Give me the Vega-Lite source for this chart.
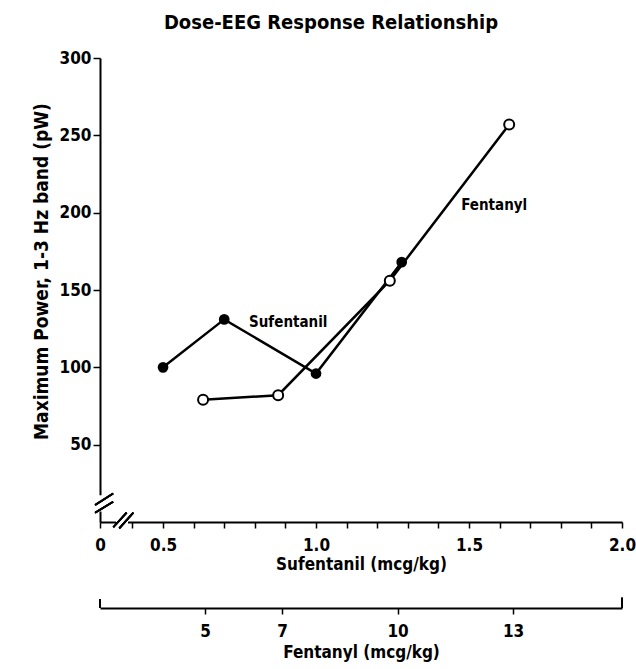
{
  "$schema": "https://vega.github.io/schema/vega-lite/v6.json",
  "width": 522,
  "height": 464,
  "autosize": "none",
  "padding": {"left": 100, "top": 58, "right": 14, "bottom": 147},
  "background": "white",
  "config": {
    "view": {"stroke": null},
    "font": "Liberation Sans Narrow, DejaVu Sans Condensed, sans-serif",
    "axis": {
      "grid": false,
      "domainColor": "black",
      "domainWidth": 2,
      "tickColor": "black",
      "tickWidth": 1.5,
      "labelColor": "black",
      "labelFontSize": 17,
      "labelFontWeight": "bold",
      "labelFont": "Liberation Sans Narrow, DejaVu Sans Condensed, sans-serif",
      "titleColor": "black",
      "titleFontSize": 17,
      "titleFontWeight": "bold",
      "titleFont": "Liberation Sans Narrow, DejaVu Sans Condensed, sans-serif"
    }
  },
  "title": {
    "text": "Dose-EEG Response Relationship",
    "fontSize": 20,
    "fontWeight": "bold",
    "font": "Liberation Sans Narrow, DejaVu Sans Condensed, sans-serif",
    "color": "black",
    "dx": -30,
    "offset": 16
  },
  "datasets": {
    "sufentanil": [
      {"dose": 0.5, "power": 100},
      {"dose": 0.7, "power": 131},
      {"dose": 1.0, "power": 96},
      {"dose": 1.28, "power": 168}
    ],
    "fentanyl": [
      {"dose": 4.95, "power": 79},
      {"dose": 6.9, "power": 82},
      {"dose": 9.8, "power": 156},
      {"dose": 12.9, "power": 257}
    ]
  },
  "encoding": {
    "y": {
      "field": "power",
      "type": "quantitative",
      "scale": {"domain": [0, 300], "nice": false},
      "axis": {
        "values": [50, 100, 150, 200, 250, 300],
        "tickSize": 7,
        "labelPadding": 2,
        "title": "Maximum Power, 1-3 Hz band (pW)",
        "titleFontSize": 19,
        "titleX": -59,
        "titleY": 213,
        "titleAngle": -90,
        "titleAlign": "center",
        "titleBaseline": "middle"
      }
    }
  },
  "layer": [
    {
      "data": {"name": "sufentanil"},
      "encoding": {
        "x": {
          "field": "dose",
          "type": "quantitative",
          "scale": {"domain": [0.294, 2.0], "nice": false, "zero": false},
          "axis": {
            "values": [0.294, 0.4, 0.5, 0.6, 0.7, 0.8, 0.9, 1.0, 1.1, 1.2, 1.3, 1.4, 1.5, 1.6, 1.7, 1.8, 1.9, 2.0],
            "labelExpr": "datum.value < 0.3 ? '0' : (abs(datum.value * 2 - round(datum.value * 2)) < 0.001 ? format(datum.value, '.1f') : '')",
            "tickSize": 6,
            "labelPadding": 9,
            "labelFlush": false,
            "labelOverlap": false,
            "title": "Sufentanil (mcg/kg)",
            "titlePadding": 3
          }
        }
      },
      "layer": [
        {"mark": {"type": "line", "color": "black", "strokeWidth": 2.5}},
        {"mark": {"type": "point", "shape": "circle", "filled": true, "color": "black", "size": 115, "opacity": 1}},
        {
          "transform": [{"filter": "datum.dose == 0.7"}],
          "mark": {"type": "text", "text": "Sufentanil", "dx": 64, "dy": 3, "fontSize": 15, "fontWeight": "bold", "color": "black", "font": "Liberation Sans Narrow, DejaVu Sans Condensed, sans-serif"}
        },
        {
          "mark": {"type": "rule", "color": "white", "strokeWidth": 4, "clip": false},
          "encoding": {"x": {"datum": 0.294}, "y": {"datum": 7}, "y2": {"datum": 17}}
        },
        {
          "mark": {"type": "rule", "color": "white", "strokeWidth": 4, "clip": false},
          "encoding": {"x": {"datum": 0.347}, "x2": {"datum": 0.385}, "y": {"datum": 0}}
        },
        {
          "mark": {"type": "rule", "color": "black", "strokeWidth": 1.8, "clip": false},
          "encoding": {"x": {"datum": 0.278}, "x2": {"datum": 0.337}, "y": {"datum": 11.0}, "y2": {"datum": 18.5}}
        },
        {
          "mark": {"type": "rule", "color": "black", "strokeWidth": 1.8, "clip": false},
          "encoding": {"x": {"datum": 0.278}, "x2": {"datum": 0.337}, "y": {"datum": 6.0}, "y2": {"datum": 13.1}}
        },
        {
          "mark": {"type": "rule", "color": "black", "strokeWidth": 1.8, "clip": false},
          "encoding": {"x": {"datum": 0.3375}, "x2": {"datum": 0.381}, "y": {"datum": -3.4}, "y2": {"datum": 6.0}}
        },
        {
          "mark": {"type": "rule", "color": "black", "strokeWidth": 1.8, "clip": false},
          "encoding": {"x": {"datum": 0.357}, "x2": {"datum": 0.403}, "y": {"datum": -4.1}, "y2": {"datum": 6.0}}
        }
      ]
    },
    {
      "data": {"name": "fentanyl"},
      "encoding": {
        "x": {
          "field": "dose",
          "type": "quantitative",
          "scale": {"domain": [2.273, 15.83], "nice": false, "zero": false},
          "axis": {
            "orient": "bottom",
            "offset": 86,
            "values": [5, 7, 10, 13],
            "tickSize": 6,
            "labelPadding": 9,
            "title": "Fentanyl (mcg/kg)",
            "titlePadding": 5
          }
        }
      },
      "layer": [
        {"mark": {"type": "line", "color": "black", "strokeWidth": 2.5}},
        {"mark": {"type": "point", "shape": "circle", "filled": true, "fill": "white", "stroke": "black", "strokeWidth": 2, "size": 100, "opacity": 1}},
        {
          "transform": [{"filter": "datum.dose == 12.9"}],
          "mark": {"type": "text", "text": "Fentanyl", "dx": -15, "dy": 80, "fontSize": 15, "fontWeight": "bold", "color": "black", "font": "Liberation Sans Narrow, DejaVu Sans Condensed, sans-serif"}
        },
        {
          "mark": {"type": "rule", "color": "black", "strokeWidth": 2, "clip": false},
          "encoding": {"x": {"datum": 2.273}, "y": {"datum": -55.6}, "y2": {"datum": -50}}
        },
        {
          "mark": {"type": "rule", "color": "black", "strokeWidth": 2, "clip": false},
          "encoding": {"x": {"datum": 15.83}, "y": {"datum": -55.6}, "y2": {"datum": -49}}
        }
      ]
    }
  ],
  "resolve": {"scale": {"x": "independent"}}
}
